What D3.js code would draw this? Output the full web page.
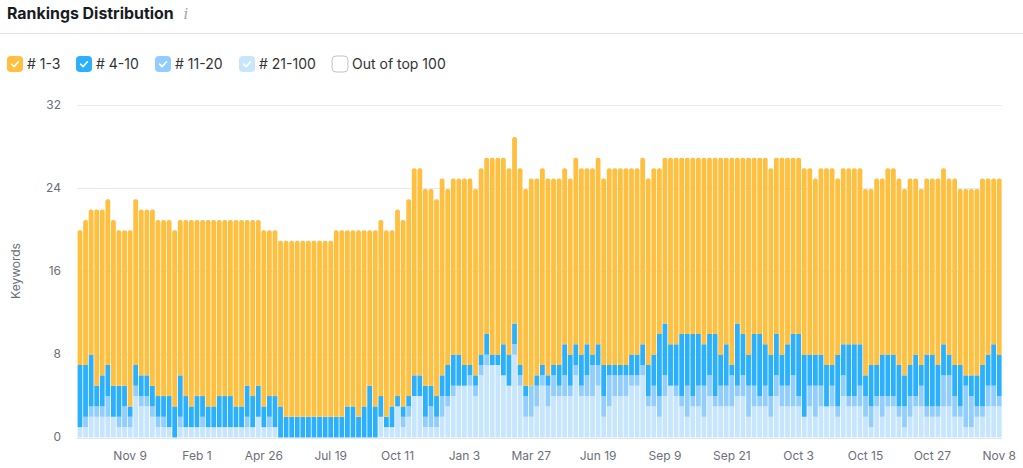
<!DOCTYPE html>
<html>
<head>
<meta charset="utf-8">
<script src="https://cdn.jsdelivr.net/npm/d3@7"></script>
<style>
  html, body { margin: 0; padding: 0; background: #fff; }
  svg { display: block; font-family: Inter, "Noto Sans", sans-serif; }
</style>
</head>
<body>
<div id="app"></div>
<script>
var title = 'Rankings Distribution';
var yTicks = [0, 8, 16, 24, 32];
var xTickBars = [9, 21, 33, 45, 57, 69, 81, 93, 105, 117, 129, 141, 153, 165];
var xTickLabels = ['Nov 9', 'Feb 1', 'Apr 26', 'Jul 19', 'Oct 11', 'Jan 3', 'Mar 27', 'Jun 19', 'Sep 9', 'Sep 21', 'Oct 3', 'Oct 15', 'Oct 27', 'Nov 8'];
var legendLabels = ['# 1-3', '# 4-10', '# 11-20', '# 21-100', 'Out of top 100'];
var legendColors = ['#ffbf3f', '#2cb0fb', '#92cefd', '#c7e6fe', '#ffffff'];

var rank21to100 = [
  1,1,2,2,2,2,2,1,1,1, 4,3,3,2,1,1,1,0,1,1, 1,1,1,1,1,1,1,1,1,1, 1,1,2,1,1,1,0,0,0,0,
  0,0,0,0,0,0,0,0,0,0, 0,0,0,0,2,1,1,3,1,2, 4,4,1,1,1,2,3,4,5,5, 5,4,6,7,7,7,6,5,8,5,
  2,2,3,5,3,4,4,4,4,6, 4,4,4,5,2,3,4,4,4,5, 5,6,3,3,2,4,5,4,3,2, 3,3,2,4,3,3,3,3,4,4,
  2,3,3,3,2,4,3,3,3,3, 2,3,2,3,3,3,2,4,3,3, 3,2,1,3,2,3,3,2,1,2, 3,3,2,2,2,3,3,2,2,1,
  1,2,2,3,3,3
];
var rank11to20 = [
  0,1,1,1,1,2,0,1,2,1, 1,1,1,1,1,1,0,0,1,0, 0,0,1,0,0,0,0,0,0,0, 1,0,0,0,1,0,0,0,0,0,
  0,0,0,0,0,0,0,0,0,0, 0,0,0,0,0,0,0,0,1,1, 0,0,1,2,1,2,1,1,0,0, 1,1,1,1,0,0,0,0,1,1,
  2,3,2,1,2,2,1,2,1,1, 1,2,3,2,2,3,2,2,2,1, 1,1,1,2,2,2,0,1,1,3, 1,2,3,2,1,2,2,3,1,2,
  3,2,1,2,2,2,2,2,3,1, 0,2,3,2,0,2,1,2,1,1, 2,2,2,1,2,1,1,1,2,2, 1,2,1,1,1,3,3,2,1,4,
  3,1,1,2,2,1
];
var rank4to10 = [
  6,5,5,2,3,3,3,3,2,1, 2,2,2,2,2,2,3,3,4,3, 2,3,2,2,2,3,3,3,2,2, 3,3,3,2,2,3,3,2,2,2,
  2,2,2,2,2,2,2,2,3,3, 2,3,5,3,2,1,2,1,1,1, 2,2,3,2,2,2,3,3,3,2, 1,1,1,2,1,1,3,3,2,1,
  1,0,1,1,1,1,2,3,3,2, 3,3,1,2,3,1,1,1,1,2, 2,2,3,3,6,5,4,4,6,5, 6,5,4,4,6,3,4,1,6,4,
  3,5,6,4,4,4,3,4,4,6, 6,3,3,3,4,2,5,3,5,5, 4,2,4,3,4,4,4,4,3,3, 4,2,5,5,4,3,2,3,4,1,
  2,3,4,3,4,4
];
var rank1to3 = [
  13,14,14,17,16,16,16,15,15,17, 16,16,16,17,17,17,17,17,15,17, 18,17,17,18,18,17,17,17,18,18, 16,17,16,17,16,16,16,17,17,17,
  17,17,17,17,17,17,18,18,17,17, 18,17,15,17,17,18,17,18,18,19, 20,20,19,19,19,19,17,17,17,18, 18,18,18,17,19,19,18,18,18,19,
  19,20,19,19,19,18,18,17,17,18, 18,17,18,18,18,19,19,19,19,18, 18,18,18,18,16,16,18,18,17,17, 17,17,18,17,17,19,18,20,16,17,
  19,17,17,18,18,17,19,18,17,17, 18,18,17,18,19,19,17,17,17,17, 17,18,17,18,17,18,18,18,18,18, 17,17,17,17,18,17,17,18,17,18,
  18,18,18,17,16,17
];

var seriesKeys = ['r21', 'r11', 'r4', 'r1'];
var seriesColors = { r21: '#c7e6fe', r11: '#92cefd', r4: '#2cb0fb', r1: '#ffbf3f' };

var rows = rank1to3.map(function (d, i) {
  return { i: i, r1: d, r4: rank4to10[i], r11: rank11to20[i], r21: rank21to100[i] };
});

var svg = d3.select('#app').append('svg').attr('width', 1023).attr('height', 468);

var x = d3.scaleBand().domain(d3.range(rows.length)).range([77.2, 1002]).paddingInner(0.14).paddingOuter(0.07);
var y = d3.scaleLinear().domain([0, 32]).range([437.5, 106]);

// header
svg.append('text').attr('x', 7).attr('y', 19)
  .attr('font-size', 15.9).attr('font-weight', 700).attr('fill', '#191b23').text(title);
svg.append('text').attr('x', 183.5).attr('y', 19)
  .attr('font-family', '"DejaVu Serif", serif').attr('font-style', 'italic')
  .attr('font-size', 15).attr('fill', '#a4a6b0').text('i');
svg.append('line').attr('x1', 0).attr('x2', 1023).attr('y1', 33.5).attr('y2', 33.5)
  .attr('stroke', '#e4e5e8');

// legend
var legendX = [7, 76, 155, 239, 332];
var legend = svg.selectAll('.legend').data(legendLabels).enter().append('g')
  .attr('class', 'legend')
  .attr('transform', function (d, i) { return 'translate(' + legendX[i] + ',56)'; });
legend.append('rect').attr('width', 16).attr('height', 16).attr('rx', 4)
  .attr('fill', function (d, i) { return legendColors[i]; })
  .attr('stroke', function (d, i) { return i === 4 ? '#c1c3ca' : 'none'; });
legend.filter(function (d, i) { return i < 4; }).append('path')
  .attr('d', 'M4.6 8.2 L7.1 10.6 L11.4 5.8')
  .attr('fill', 'none').attr('stroke', '#fff').attr('stroke-width', 1.6)
  .attr('stroke-linecap', 'round').attr('stroke-linejoin', 'round');
legend.append('text').attr('x', 20).attr('y', 13)
  .attr('font-size', 14).attr('fill', '#333').text(function (d) { return d; });

// grid
svg.selectAll('.grid').data(yTicks.slice(1)).enter().append('line')
  .attr('class', 'grid')
  .attr('x1', 77).attr('x2', 1002)
  .attr('y1', function (d) { return Math.round(y(d)) - 0.5; })
  .attr('y2', function (d) { return Math.round(y(d)) - 0.5; })
  .attr('stroke', '#e9eaec');

// y axis
var yAxis = svg.append('g').attr('transform', 'translate(66,-1)')
  .call(d3.axisLeft(y).tickValues(yTicks).tickSize(0).tickPadding(5));
yAxis.select('.domain').remove();
yAxis.selectAll('text').attr('font-size', 12).attr('font-family', 'Inter').attr('fill', '#6c6e79');

svg.append('text').attr('transform', 'translate(20,271) rotate(-90)')
  .attr('text-anchor', 'middle').attr('font-size', 12).attr('fill', '#6c6e79').text('Keywords');

// bars
var stack = d3.stack().keys(seriesKeys)(rows);

function topRounded(d, w) {
  var r = 2, x0 = x(d.data.i), y0 = y(d[1]), y1 = y(d[0]);
  var p = d3.path();
  p.moveTo(x0, y1);
  p.lineTo(x0, y0 + r);
  p.quadraticCurveTo(x0, y0, x0 + r, y0);
  p.lineTo(x0 + w - r, y0);
  p.quadraticCurveTo(x0 + w, y0, x0 + w, y0 + r);
  p.lineTo(x0 + w, y1);
  p.closePath();
  return p.toString();
}

svg.selectAll('.series').data(stack).enter().append('g')
  .attr('class', 'series')
  .attr('fill', function (s) { return seriesColors[s.key]; })
  .selectAll('path')
  .data(function (s) { return s.filter(function (d) { return d[1] > d[0]; }).map(function (d) { d.key = s.key; return d; }); })
  .enter().append('path')
  .attr('d', function (d) {
    if (d.key === 'r1') { return topRounded(d, x.bandwidth()); }
    return 'M' + x(d.data.i) + ',' + y(d[0]) + 'h' + x.bandwidth() + 'V' + y(d[1]) + 'h' + (-x.bandwidth()) + 'Z';
  });

// baseline
svg.append('line').attr('x1', 77).attr('x2', 1002).attr('y1', 438.5).attr('y2', 438.5).attr('stroke', '#e4e5e8');

// x axis
var xAxis = svg.append('g').attr('transform', 'translate(0,438)')
  .call(d3.axisBottom(x).tickValues(xTickBars).tickSize(0).tickPadding(13)
    .tickFormat(function (d) { return xTickLabels[xTickBars.indexOf(d)]; }));
xAxis.select('.domain').remove();
xAxis.selectAll('text').attr('font-size', 12).attr('font-family', 'Inter').attr('fill', '#6c6e79');
</script>
</body>
</html>
